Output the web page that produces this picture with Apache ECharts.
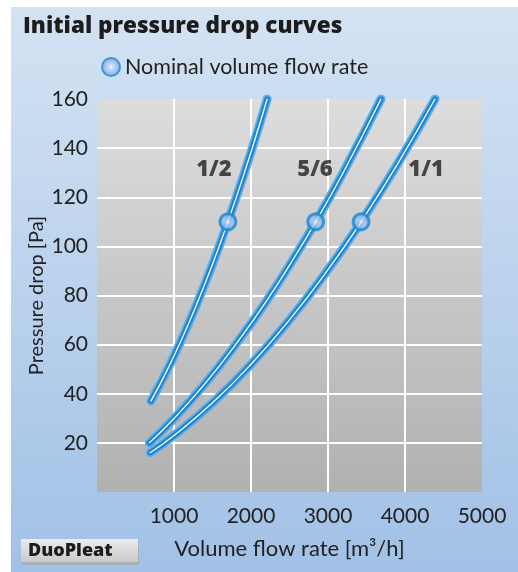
<!DOCTYPE html>
<html>
<head>
<meta charset="utf-8">
<script src="https://cdn.jsdelivr.net/npm/echarts@6/dist/echarts.min.js"></script>
<style>
html,body{margin:0;padding:0;background:#fff;}
#c{width:518px;height:572px;}
</style>
</head>
<body>
<div id="c"></div>
<script>
// ---- data ----
var curveNames = ['1/2', '5/6', '1/1'];
var flow12 = [700, 900, 1100, 1300, 1500, 1700, 1900, 2100, 2210];
var drop12 = [37, 48.9, 62.2, 76.8, 92.7, 110, 128.6, 148.5, 160];
var flow56 = [680, 1000, 1400, 1800, 2200, 2600, 2840, 3200, 3688];
var drop56 = [20, 29.9, 44.0, 60.0, 77.7, 97.4, 110, 130.2, 160];
var flow11 = [690, 1000, 1500, 2000, 2500, 3000, 3430, 3900, 4390];
var drop11 = [16, 23.0, 36.3, 52.0, 70.1, 90.5, 110, 133.4, 160];
var nominalFlow = [1700, 2840, 3430];
var nominalDrop = [110, 110, 110];
var labelFlow = [1519, 2831, 4273];
var labelDrop = [131, 131, 131];
var xTicks = [1000, 2000, 3000, 4000, 5000];
var yTicks = [20, 40, 60, 80, 100, 120, 140, 160];

var FONT = 'Lato';
var BOLDFONT = 'Open Sans';
function pairs(xs, ys) { return xs.map(function (x, i) { return [x, ys[i]]; }); }
var curves = [pairs(flow12, drop12), pairs(flow56, drop56), pairs(flow11, drop11)];

var series = [];
var layers = [
  { w: 9, c: '#64ace6', z: 2 },
  { w: 5.5, c: '#1a86cf', z: 3 },
  { w: 1.3, c: '#ffffff', z: 4 }
];
curves.forEach(function (d, ci) {
  layers.forEach(function (L) {
    series.push({
      type: 'line', data: d, smooth: true, showSymbol: false, symbol: 'none',
      z: L.z, silent: true,
      lineStyle: { width: L.w, color: L.c, cap: 'round', join: 'round' },
      emphasis: { disabled: true }
    });
  });
});
var nomGrad = {
  type: 'radial', x: 0.5, y: 0.5, r: 0.5,
  colorStops: [
    { offset: 0, color: '#ffffff' },
    { offset: 0.22, color: '#c4d9f3' },
    { offset: 1, color: '#6e9fdb' }
  ]
};
series.push({
  name: 'Nominal volume flow rate', type: 'scatter', z: 6,
  data: pairs(nominalFlow, nominalDrop), symbol: 'circle', symbolSize: 16,
  itemStyle: { color: nomGrad, borderColor: '#1a8ad2', borderWidth: 3 },
  emphasis: { disabled: true }
});
series.push({
  type: 'scatter', z: 7, symbolSize: 0, silent: true,
  data: labelFlow.map(function (x, i) { return { value: [x, labelDrop[i]], name: curveNames[i] }; }),
  label: { show: true, position: 'inside', formatter: '{b}', fontFamily: BOLDFONT, fontWeight: 800, fontSize: 22, color: '#1f1f1f' }
});

var chart = echarts.init(document.getElementById('c'), null, { renderer: 'canvas' });
chart.setOption({
  animation: false,
  backgroundColor: '#ffffff',
  graphic: [
    { type: 'rect', z: -10, shape: { x: 11, y: 7, width: 507, height: 565 },
      style: { fill: { type: 'linear', x: 0, y: 0, x2: 0, y2: 1, colorStops: [
        { offset: 0, color: '#d4e3f3' }, { offset: 1, color: '#a1c1e6' }] } } },
    { type: 'rect', z: 10, shape: { x: 22, y: 541, width: 117, height: 24 },
      style: { fill: '#a9b0b9' } },
    { type: 'rect', z: 11, shape: { x: 21, y: 539, width: 117, height: 23 },
      style: { fill: { type: 'linear', x: 0, y: 0, x2: 0, y2: 1, colorStops: [
        { offset: 0, color: '#ececec' }, { offset: 1, color: '#c9c9c9' }] } } },
    { type: 'text', z: 12, x: 28, y: 551,
      style: { text: 'DuoPleat', fontFamily: BOLDFONT, fontWeight: 800, fontSize: 18, fill: '#1c1c1c', verticalAlign: 'middle' } }
  ],
  title: {
    text: 'Initial pressure drop curves', left: 23, top: 15, padding: 0,
    textStyle: { fontFamily: BOLDFONT, fontWeight: 800, fontSize: 22.5, color: '#1c1c1c' }
  },
  legend: {
    data: ['Nominal volume flow rate'], left: 101, top: 56, padding: 0, icon: 'circle',
    itemWidth: 18, itemHeight: 18, itemGap: 6,
    textStyle: { fontFamily: FONT, fontSize: 21.5, color: '#222' },
    selectedMode: false
  },
  grid: {
    left: 97, top: 99, right: 36, bottom: 80, show: true, borderWidth: 0,
    backgroundColor: { type: 'linear', x: 0, y: 0, x2: 0, y2: 1, colorStops: [
      { offset: 0, color: '#dddddd' }, { offset: 1, color: '#b1b1b1' }] }
  },
  xAxis: {
    type: 'value', min: 0, max: 5000, interval: 1000,
    name: 'Volume flow rate [m³/h]', nameLocation: 'middle', nameGap: 46,
    nameTextStyle: { fontFamily: FONT, fontSize: 22, color: '#222' },
    axisLine: { show: false }, axisTick: { show: false },
    axisLabel: { margin: 14, fontFamily: FONT, fontSize: 21, color: '#222',
      formatter: function (v) { return xTicks.indexOf(v) >= 0 ? String(v) : ''; } },
    splitLine: { show: true, showMinLine: false, showMaxLine: false, lineStyle: { color: '#ffffff', width: 2 } }
  },
  yAxis: {
    type: 'value', min: 0, max: 160, interval: 20,
    name: 'Pressure drop [Pa]', nameLocation: 'middle', nameGap: 50, nameRotate: 90,
    nameMoveOverlap: false,
    nameTextStyle: { fontFamily: FONT, fontSize: 20, color: '#222' },
    axisLine: { show: false }, axisTick: { show: false },
    axisLabel: { margin: 9, fontFamily: FONT, fontSize: 21, color: '#222',
      formatter: function (v) { return yTicks.indexOf(v) >= 0 ? String(v) : ''; } },
    splitLine: { show: true, showMinLine: false, showMaxLine: false, lineStyle: { color: '#ffffff', width: 2 } }
  },
  series: series
});
</script>
</body>
</html>
